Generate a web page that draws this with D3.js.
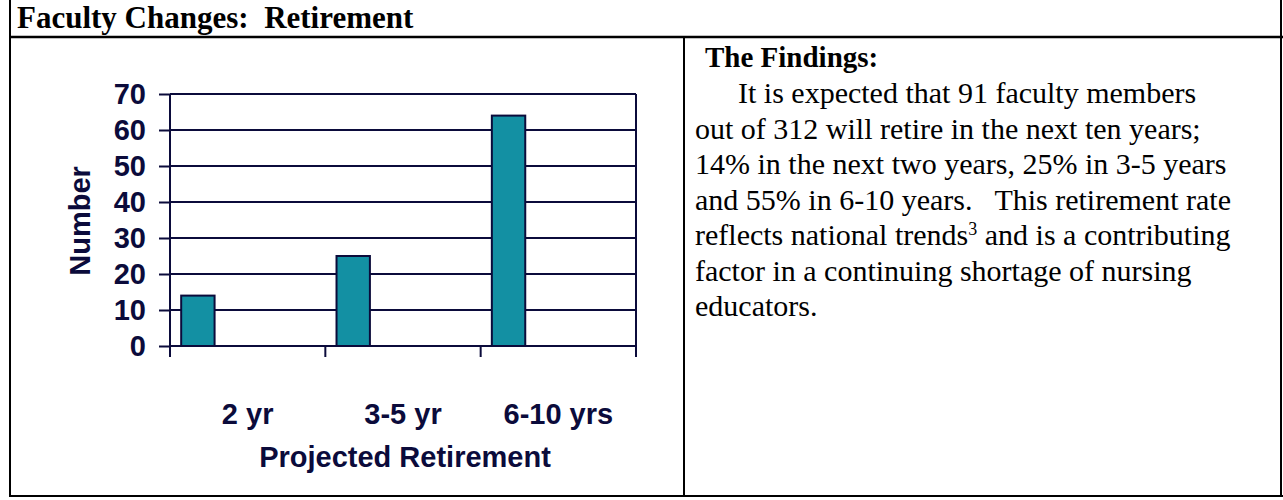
<!DOCTYPE html>
<html>
<head>
<meta charset="utf-8">
<script src="https://cdn.jsdelivr.net/npm/d3@7/dist/d3.min.js"></script>
<style>
  html, body { margin: 0; padding: 0; background: #fff; }
  svg { display: block; }
</style>
</head>
<body>
<svg id="chart" width="1283" height="500"></svg>
<script>
// ---- data ----
const categories = ["2 yr", "3-5 yr", "6-10 yrs"];
const retirees = [14, 25, 64];
const yTicks = [0, 10, 20, 30, 40, 50, 60, 70];
const pageTitle = "Faculty Changes:  Retirement";
const yAxisTitle = "Number";
const xAxisTitle = "Projected Retirement";
const findingsHead = "The Findings:";
const findingsLines = [
  "It is expected that 91 faculty members",
  "out of 312 will retire in the next ten years;",
  "14% in the next two years, 25% in 3-5 years",
  "and 55% in 6-10 years.   This retirement rate",
  "reflects national trends|3| and is a contributing",
  "factor in a continuing shortage of nursing",
  "educators."
];

// ---- layout ----
const svg = d3.select("#chart");
const ink = "#0b0b3b";
const barFill = "#1390a3";
const chartFont = "'Liberation Sans', Arial, sans-serif";
const serif = "'Liberation Serif', 'Times New Roman', serif";

// page frame
svg.append("line").attr("x1", 10).attr("x2", 10).attr("y1", 0).attr("y2", 497)
  .attr("stroke", "#000").attr("stroke-width", 2);
svg.append("line").attr("x1", 1281).attr("x2", 1281).attr("y1", 0).attr("y2", 497)
  .attr("stroke", "#000").attr("stroke-width", 2);
svg.append("line").attr("x1", 9).attr("x2", 1283).attr("y1", 37).attr("y2", 37)
  .attr("stroke", "#000").attr("stroke-width", 2.5);
svg.append("line").attr("x1", 9).attr("x2", 1283).attr("y1", 496).attr("y2", 496)
  .attr("stroke", "#000").attr("stroke-width", 2);
svg.append("line").attr("x1", 684).attr("x2", 684).attr("y1", 37).attr("y2", 497)
  .attr("stroke", "#000").attr("stroke-width", 2);

svg.append("text").attr("x", 17).attr("y", 28)
  .attr("font-family", serif).attr("font-weight", "bold").attr("font-size", 31)
  .attr("fill", "#000").style("white-space", "pre").text(pageTitle);

// ---- chart ----
const plot = { left: 170, right: 636, top: 94, bottom: 346 };
const x = d3.scaleBand().domain(categories).range([plot.left, plot.right]).padding(0);
const y = d3.scaleLinear().domain([0, 70]).range([plot.bottom, plot.top]);
const g = svg.append("g");

// gridlines
g.append("g").selectAll("line").data(yTicks.filter(d => d > 0)).join("line")
  .attr("x1", plot.left).attr("x2", plot.right)
  .attr("y1", d => y(d)).attr("y2", d => y(d))
  .attr("stroke", ink).attr("stroke-width", 2);

// right frame line
g.append("line").attr("x1", plot.right).attr("x2", plot.right)
  .attr("y1", y(70)).attr("y2", plot.bottom + 11)
  .attr("stroke", ink).attr("stroke-width", 2);

// bars
const bw = x.bandwidth();
g.append("g").selectAll("rect").data(categories).join("rect")
  .attr("x", d => x(d) + bw * 0.072)
  .attr("width", bw * 0.215)
  .attr("y", (d, i) => y(retirees[i]))
  .attr("height", (d, i) => y(0) - y(retirees[i]))
  .attr("fill", barFill).attr("stroke", ink).attr("stroke-width", 2);

// y axis
const yAxis = d3.axisLeft(y).tickValues(yTicks).tickSize(11).tickPadding(13);
const ya = g.append("g").attr("transform", `translate(${plot.left},0)`).call(yAxis);
ya.select(".domain").remove();
ya.selectAll(".tick line").attr("stroke", ink).attr("stroke-width", 2);
ya.selectAll(".tick text").attr("font-family", chartFont).attr("font-weight", "bold")
  .attr("font-size", 29).attr("fill", ink);
g.append("line").attr("x1", plot.left).attr("x2", plot.left)
  .attr("y1", plot.top).attr("y2", plot.bottom + 11)
  .attr("stroke", ink).attr("stroke-width", 2);

// x axis
const xAxis = d3.axisBottom(x).tickSize(0).tickPadding(0).tickFormat("");
const xa = g.append("g").attr("transform", `translate(0,${plot.bottom})`).call(xAxis);
xa.select(".domain").attr("stroke", ink).attr("stroke-width", 2)
  .attr("d", `M${plot.left},0H${plot.right}`);
xa.selectAll(".tick").remove();
g.append("g").selectAll("line").data(categories.slice(1)).join("line")
  .attr("x1", d => x(d)).attr("x2", d => x(d))
  .attr("y1", plot.bottom).attr("y2", plot.bottom + 11)
  .attr("stroke", ink).attr("stroke-width", 2);
g.append("g").selectAll("text").data(categories).join("text")
  .attr("x", d => x(d) + bw / 2).attr("y", 424)
  .attr("text-anchor", "middle")
  .attr("font-family", chartFont).attr("font-weight", "bold").attr("font-size", 29)
  .attr("fill", ink).text(d => d);

// axis titles
g.append("text").attr("transform", "translate(90,221) rotate(-90)")
  .attr("text-anchor", "middle")
  .attr("font-family", chartFont).attr("font-weight", "bold").attr("font-size", 29)
  .attr("fill", ink).text(yAxisTitle);
g.append("text").attr("x", (plot.left + plot.right) / 2 + 2).attr("y", 467)
  .attr("text-anchor", "middle")
  .attr("font-family", chartFont).attr("font-weight", "bold").attr("font-size", 29)
  .attr("fill", ink).text(xAxisTitle);

// ---- findings text ----
svg.append("text").attr("x", 705).attr("y", 67)
  .attr("font-family", serif).attr("font-weight", "bold").attr("font-size", 29)
  .attr("fill", "#000").text(findingsHead);
const body = svg.append("g").attr("font-family", serif).attr("font-size", 30).attr("fill", "#000");
findingsLines.forEach((line, i) => {
  const t = body.append("text").attr("x", i === 0 ? 738 : 695).attr("y", 103 + i * 35.5)
    .style("white-space", "pre");
  const parts = line.split("|");
  parts.forEach((p, j) => {
    const ts = t.append("tspan").text(p);
    if (j === 1) ts.attr("font-size", 18).attr("baseline-shift", "super");
  });
});
</script>
</body>
</html>
